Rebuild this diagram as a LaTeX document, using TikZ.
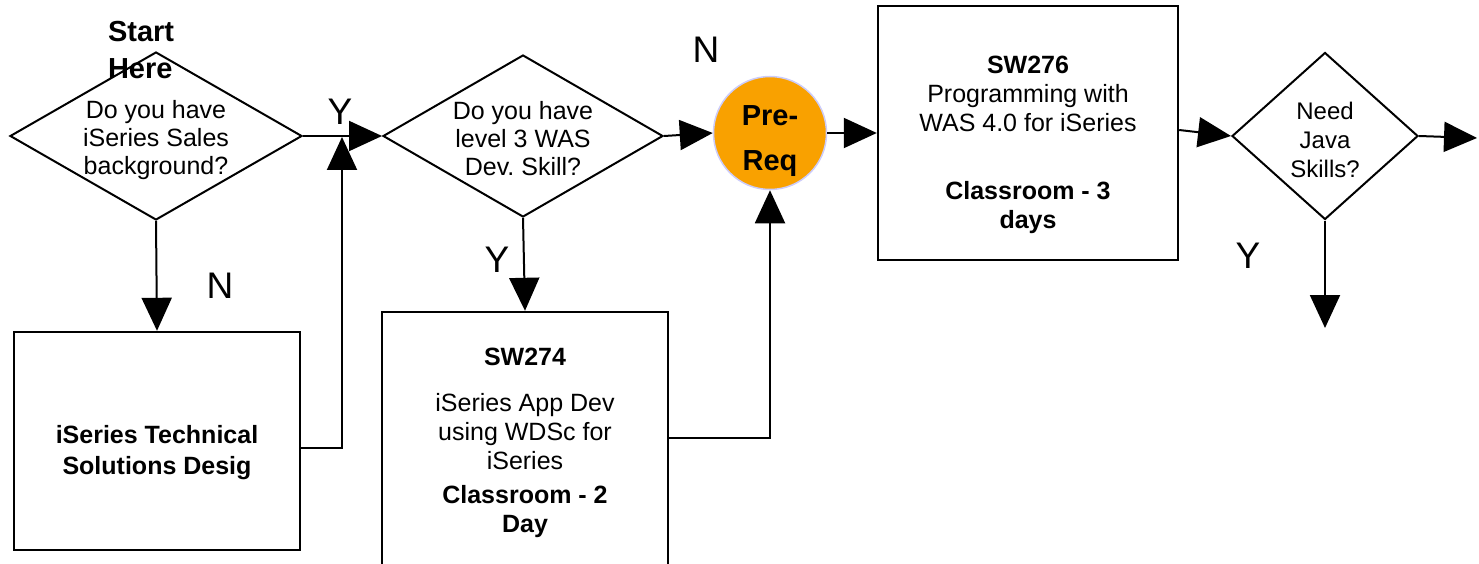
\documentclass[tikz,border=0pt]{standalone}
\usepackage{fontspec}
\setmainfont{Liberation Sans}
\definecolor{prereqorange}{RGB}{249,161,0}
\definecolor{prereqrim}{RGB}{204,204,250}
\usetikzlibrary{shapes.geometric, arrows.meta, positioning}
\tikzset{
>={Triangle[length=33pt,width=30pt]}, % makes the arrow heads big and filled
decision/.style={diamond, draw, line width=2pt, inner sep=0pt}, % sets the properties for each question
qtext/.style={align=center, inner sep=0pt, font=\fontsize{25}{28}\selectfont}, % the text inside a question
course/.style={rectangle, draw, line width=2.4pt, align=center, inner sep=0pt, font=\fontsize{25}{29}\selectfont}, % sets the properties for each course box
prereqdot/.style={circle, fill=prereqorange, draw=prereqrim, line width=1.5pt, minimum size=113pt, inner sep=0pt, align=center, font=\bfseries\fontsize{29}{45}\selectfont}, % the orange pre-req stop
answer/.style={inner sep=0pt, font=\fontsize{37}{40}\selectfont}, % the Y and N answers
starttxt/.style={align=left, inner sep=0pt, font=\bfseries\fontsize{29}{37}\selectfont}, % the start marker
}
\newcommand{\pushdown}[1]{\rule{0pt}{#1}} % taller first line moves the text down

\begin{document}
\begin{tikzpicture}[x=1pt, y=1pt, line width=2pt]
      \useasboundingbox (0,0) rectangle (1479,-564);
      \node[decision, minimum width=292pt, minimum height=168pt] (q1) at (156,-136) {};
      \node[decision, right of=q1, node distance=367pt, minimum width=280pt, minimum height=162pt] (q2) {};
      \node[prereqdot, right of=q2, node distance=247pt, yshift=3pt] (prereq) {\pushdown{36pt}Pre-\\Req};
      \node[course, right of=prereq, node distance=258pt, minimum width=300pt, minimum height=254pt] (sw276) {\pushdown{42pt}\textbf{SW276}\\Programming with\\WAS 4.0 for iSeries\\[39pt]\textbf{Classroom - 3}\\\textbf{days}};
      \node[decision, right of=sw276, node distance=297pt, yshift=-3pt, minimum width=186pt, minimum height=167pt] (q3) {};
      \node[course, below of=q1, node distance=305pt, xshift=1pt, minimum width=286pt, minimum height=218pt, font=\bfseries\fontsize{25}{31}\selectfont] (tsd) {\pushdown{42pt}iSeries Technical\\Solutions Desig};
      \node[course, below of=q2, node distance=307pt, xshift=2pt, minimum width=286pt, minimum height=262pt] (sw274) {\textbf{SW274}\\[17pt]iSeries App Dev\\using WDSc for\\iSeries\\[5pt]\textbf{Classroom - 2}\\\textbf{Day}};

      \node[qtext] (q1txt) at ([yshift=-4pt]q1) {Do you have\\iSeries Sales\\background?};
      \node[qtext] (q2txt) at ([yshift=-3pt]q2) {Do you have\\level 3 WAS\\Dev.\ Skill?};
      \node[qtext, font=\fontsize{24}{29}\selectfont] (q3txt) at ([yshift=-4pt]q3) {Need\\Java\\Skills?};
      \node[starttxt, anchor=west] (start) at (107,-50) {Start\\Here};

      \node[answer] (y1) at (340,-112) {Y};
      \node[answer] (n1) at (706,-50) {N};
      \node[answer] (y2) at (497,-260) {Y};
      \node[answer] (n2) at (220,-286) {N};
      \node[answer] (y3) at (1248,-256) {Y};

      \coordinate (jn) at (342,-137);
      \coordinate (q3right) at (1477,-138);
      \coordinate (q3below) at (1325,-328);

      \draw[->] (q1.east) -- (q2.west);
      \draw[->] ([yshift=-7pt]tsd.east) -| (jn);
      \draw[->] (q1.south) -- (tsd.north);
      \draw[->] (q2.south) -- (sw274.north);
      \draw[->] (q2.east) -- (prereq.west);
      \draw[->] ([yshift=5pt]sw274.east) -| (prereq.south);
      \draw[->] (prereq.east) -- (sw276.west);
      \draw[->] ([yshift=3pt]sw276.east) -- (q3.west);
      \draw[->] (q3.east) -- (q3right);
      \draw[->] (q3.south) -- (q3below);
\end{tikzpicture}
\end{document}
